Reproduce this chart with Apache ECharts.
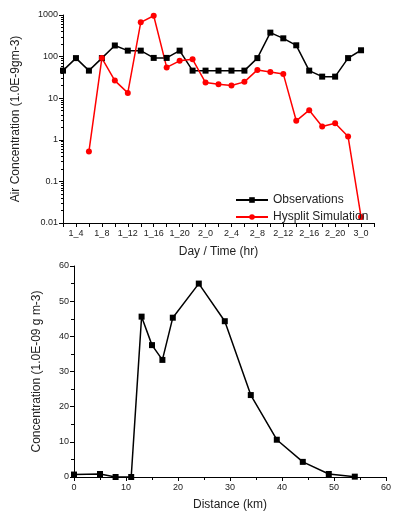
<!DOCTYPE html>
<html>
<head>
<meta charset="utf-8">
<script src="https://cdn.jsdelivr.net/npm/echarts@6/dist/echarts.min.js"></script>
<style>
html,body{margin:0;padding:0;background:#fff;}
#c{width:394px;height:512px;}
</style>
</head>
<body>
<div id="c"></div>
<script>
// Top chart: time categories (every 2 hours), last one is an empty slot at axis end
const timeCats = ['1_2','1_4','1_6','1_8','1_10','1_12','1_14','1_16','1_18','1_20','1_22',
  '2_0','2_2','2_4','2_6','2_8','2_10','2_12','2_14','2_16','2_18','2_20','2_22','3_0','3_2'];
const observations = [46, 92, 46, 92, 185, 139, 139, 93, 93, 139, 46,
  46, 46, 46, 46, 92, 377, 275, 187, 46, 33, 33, 92, 142];
const hysplit = [null, null, 0.52, 92, 26.5, 13.4, 667, 960, 55, 79, 86,
  23.8, 21.7, 20.1, 24.7, 47.9, 42.9, 38.4, 2.86, 5.15, 2.09, 2.5, 1.2, 0.014];

// Bottom chart: distance (km) vs concentration
const distance = [0, 5, 8, 11, 13, 15, 17, 19, 24, 29, 34, 39, 44, 49, 54];
const concentration = [0.7, 0.85, 0, 0, 45.6, 37.5, 33.3, 45.3, 55.0, 44.3, 23.3, 10.6, 4.3, 0.85, 0.1];

const font = 'Liberation Sans, Arial, sans-serif';
const txt = '#222';
const axisLine = {show: true, lineStyle: {color: '#000', width: 1}};

const chart = echarts.init(document.getElementById('c'), null, {renderer: 'canvas'});
chart.setOption({
  animation: false,
  backgroundColor: '#fff',
  textStyle: {fontFamily: font},
  grid: [
    {left: 63, top: 15, width: 311, height: 208},
    {left: 74, top: 266, width: 317, height: 213}
  ],
  legend: {
    gridIndex: 0,
    orient: 'vertical',
    left: 230, top: 189,
    itemWidth: 32, itemHeight: 7, itemGap: 5,
    textStyle: {fontSize: 12, color: txt, fontFamily: font},
    data: ['Observations', 'Hysplit Simulation']
  },
  xAxis: [
    {
      gridIndex: 0, type: 'category', data: timeCats, boundaryGap: false,
      axisLine: axisLine,
      axisTick: {show: true, interval: 0, length: 4, lineStyle: {color: '#000'}},
      axisLabel: {interval: (i) => i % 2 === 1, fontSize: 9, color: txt, margin: 6, fontFamily: font},
      splitLine: {show: false},
      name: 'Day / Time (hr)', nameLocation: 'middle', nameGap: 23,
      nameTextStyle: {fontSize: 12, color: txt, fontFamily: font}
    },
    {
      gridIndex: 1, type: 'value', min: 0, max: 60, interval: 10,
      axisLine: axisLine,
      axisTick: {show: true, length: 4, lineStyle: {color: '#000'}},
      minorTick: {show: true, splitNumber: 2, length: 3, lineStyle: {color: '#000'}},
      axisLabel: {fontSize: 9, color: txt, margin: 6, fontFamily: font},
      splitLine: {show: false},
      name: 'Distance (km)', nameLocation: 'middle', nameGap: 22,
      nameTextStyle: {fontSize: 12, color: txt, fontFamily: font}
    }
  ],
  yAxis: [
    {
      gridIndex: 0, type: 'log', logBase: 10, min: 0.01, max: 1000,
      axisLine: axisLine,
      axisTick: {show: true, length: 4, lineStyle: {color: '#000'}},
      minorTick: {show: true, splitNumber: 9, length: 2, lineStyle: {color: '#000'}},
      axisLabel: {fontSize: 9, color: txt, margin: 5, fontFamily: font,
        formatter: (v) => String(+v.toPrecision(3))},
      splitLine: {show: false},
      name: 'Air Concentration (1.0E-9gm-3)', nameLocation: 'middle', nameGap: 41,
      nameTextStyle: {fontSize: 12, color: txt, fontFamily: font}
    },
    {
      gridIndex: 1, type: 'value', min: 0, max: 60, interval: 10,
      axisLine: axisLine,
      axisTick: {show: true, length: 4, lineStyle: {color: '#000'}},
      minorTick: {show: true, splitNumber: 2, length: 3, lineStyle: {color: '#000'}},
      axisLabel: {fontSize: 9, color: txt, margin: 5, fontFamily: font},
      splitLine: {show: false},
      name: 'Concentration (1.0E-09 g m-3)', nameLocation: 'middle', nameGap: 31,
      nameTextStyle: {fontSize: 12, color: txt, fontFamily: font}
    }
  ],
  series: [
    {
      name: 'Observations', type: 'line', xAxisIndex: 0, yAxisIndex: 0,
      data: observations, symbol: 'rect', symbolSize: 6, showAllSymbol: true,
      lineStyle: {color: '#000', width: 1.5}, itemStyle: {color: '#000'}
    },
    {
      name: 'Hysplit Simulation', type: 'line', xAxisIndex: 0, yAxisIndex: 0,
      data: hysplit, symbol: 'circle', symbolSize: 6, showAllSymbol: true,
      lineStyle: {color: '#ff0000', width: 1.5}, itemStyle: {color: '#ff0000'}
    },
    {
      name: 'Distance profile', type: 'line', xAxisIndex: 1, yAxisIndex: 1,
      data: distance.map((d, i) => [d, concentration[i]]),
      symbol: 'rect', symbolSize: 6, showAllSymbol: true,
      lineStyle: {color: '#000', width: 1.5}, itemStyle: {color: '#000'}
    }
  ]
});
</script>
</body>
</html>
